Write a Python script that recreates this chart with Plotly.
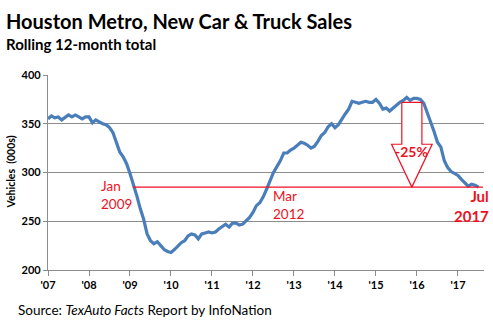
import plotly.graph_objects as go

# Monthly rolling 12-month totals (000s), Jan 2007 .. Jul 2017
start_year = 2007
sales = [
    355, 358, 356, 357, 354, 357, 359, 357, 359, 357, 355, 357,   # 2007
    357, 351, 354, 352, 350, 349, 346, 341, 330, 321, 316, 309,   # 2008
    299, 288, 276, 263, 252, 237, 230, 227, 229, 225, 221, 219,   # 2009
    218, 221, 225, 228, 230, 235, 237, 236, 232, 237, 238, 239,   # 2010
    238, 239, 242, 245, 247, 244, 248, 248, 246, 247, 250, 254,   # 2011
    259, 266, 269, 275, 283, 292, 300, 306, 312, 320, 320, 323,   # 2012
    325, 328, 331, 330, 328, 325, 327, 332, 338, 341, 347, 350,   # 2013
    346, 349, 355, 360, 365, 373, 372, 371, 372, 373, 372, 372,   # 2014
    375, 371, 365, 366, 363, 366, 370, 372, 374, 377, 374, 376,   # 2015
    376, 375, 371, 362, 352, 342, 331, 326, 312, 305, 301, 299,   # 2016
    297, 293, 289, 286, 288, 287, 285,                            # 2017
]
t = [start_year + i / 12 for i in range(len(sales))]

tick_years = list(range(2007, 2018))
tick_labels = ["'07", "'08", "'09", "'10", "'11", "'12", "'13", "'14", "'15", "'16", "'17"]
y_ticks = [200, 250, 300, 350, 400]

ref_level = 285  # Jan 2009 / Jul 2017 level
RED = "#EE1122"
GRID = "#8C8C8C"
FONT = "Lato"

fig = go.Figure()
fig.add_trace(go.Scatter(x=t, y=sales, mode="lines",
                         line=dict(color="#4A7EBB", width=3.2), hoverinfo="skip"))

# block arrow (-25%)
ax = [2015.63, 2016.12, 2016.12, 2016.37, 2015.875, 2015.38, 2015.63, 2015.63]
ay = [372, 372, 329, 329, ref_level, 329, 329, 372]
fig.add_trace(go.Scatter(x=ax, y=ay, mode="lines", fill="toself", fillcolor="white",
                         line=dict(color=RED, width=1.2), hoverinfo="skip"))

fig.add_shape(type="line", xref="x", yref="y", x0=2009.07, x1=2017.61,
              y0=ref_level, y1=ref_level, line=dict(color=RED, width=1.3))

fig.update_layout(
    width=493, height=333, margin=dict(l=48, r=9, t=75, b=63),
    paper_bgcolor="white", plot_bgcolor="white", showlegend=False,
    font=dict(family=FONT, color="black"),
    xaxis=dict(range=[2007, 2017.635], tickmode="array", tickvals=tick_years,
               ticktext=tick_labels, showgrid=False, zeroline=False,
               showline=True, linecolor=GRID, linewidth=1.3,
               ticks="outside", ticklen=5, tickcolor=GRID,
               tickfont=dict(size=11, family=FONT, weight="bold")),
    yaxis=dict(range=[200, 400], tickmode="array", tickvals=y_ticks,
               showgrid=True, gridcolor=GRID, gridwidth=1.2, zeroline=False,
               showline=True, linecolor=GRID, linewidth=1.3,
               ticks="outside", ticklen=4, tickcolor=GRID,
               tickfont=dict(size=11, family=FONT, weight="bold")),
)

def px_y(y):
    return (270 - y) / 195.0

def px_x(x):
    return (x - 48) / 436.0

ann = [
    dict(text="<b>Houston Metro, New Car &amp; Truck Sales</b>", x=px_x(4), y=px_y(21),
         font=dict(size=20, color="black"), xanchor="left"),
    dict(text="<b>Rolling 12-month total</b>", x=px_x(4), y=px_y(44),
         font=dict(size=15, color="black"), xanchor="left"),
    dict(text="Source: <i>TexAuto Facts</i> Report by InfoNation", x=px_x(16), y=px_y(310),
         font=dict(size=13.5, color="black"), xanchor="left"),
    dict(text="<b>Vehicles  (000s)</b>", x=0, xshift=-38, y=0.5, textangle=-90,
         font=dict(size=10.5, color="black"), xanchor="center"),
    dict(text="<b>Jul<br>2017</b>", x=px_x(491), y=px_y(206), xanchor="right",
         font=dict(size=15, color=RED), align="right"),
]
for a in ann:
    a.update(xref="paper", yref="paper", showarrow=False, yanchor="middle")
    fig.add_annotation(**a)

data_ann = [
    dict(text="Jan<br>2009", x=2009.1, y=277, xanchor="right", font=dict(size=13.5, color=RED)),
    dict(text="Mar<br>2012", x=2012.43, y=267, xanchor="left", font=dict(size=13.5, color=RED)),
    dict(text="<b>-25%</b>", x=2015.875, y=322, xanchor="center", font=dict(size=14, color=RED)),
]
for a in data_ann:
    a.update(xref="x", yref="y", showarrow=False, yanchor="middle", align="left")
    fig.add_annotation(**a)

fig.write_html("out.html")
